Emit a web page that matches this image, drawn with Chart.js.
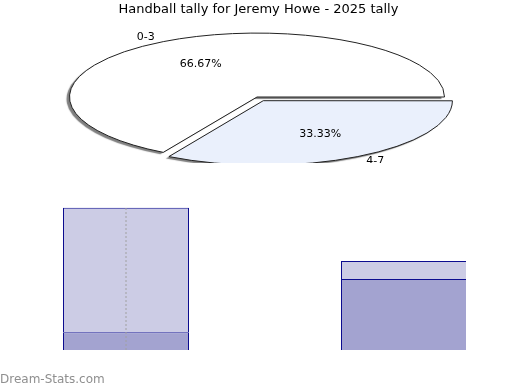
<!DOCTYPE html>
<html lang="en">
<head>
<meta charset="UTF-8" />
<title>Handball tally for Jeremy Howe - 2025 tally</title>
<script src="https://cdn.jsdelivr.net/npm/chart.js@4"></script>
<style>
  html, body { margin: 0; padding: 0; background: #fff; }
  body { width: 520px; height: 390px; position: relative; overflow: hidden; }
  #pieBox { position: absolute; left: 0; top: 0; width: 520px; height: 390px; }
  #barClip { position: absolute; left: 0; top: 180px; width: 466px; height: 170px; overflow: hidden; }
  #barBox { position: absolute; left: -13px; top: 0; width: 556px; height: 180px; }
  #mark { position: absolute; left: 0; top: 372px; font: 12px "DejaVu Sans", sans-serif; color: #8f8f8f; }
</style>
</head>
<body>
  <div id="barClip"><div id="barBox"><canvas id="barChart"></canvas></div></div>
  <div id="pieBox"><canvas id="pieChart"></canvas></div>
  <div id="mark">Dream-Stats.com</div>
<script>
const titleText = 'Handball tally for Jeremy Howe - 2025 tally';

// pie: share of games per handball band
const pieLabels = ['0-3', '4-7'];
const pieValues = [2, 1];

// stacked bars below the pie
const barLabels = ['0-3', '4-7'];
const lowerValues = [1, 4];
const upperValues = [7, 1];
const markerValues = [0, 8];

// where the squashed pie sits on the page
const PIE_CX = 257, PIE_CY = 97, SQUASH = 0.341, CLIP_H = 163;

function toPage(chart, px, py) {
    const a = chart.getDatasetMeta(0).data[0];
    return [PIE_CX + px - a.x, PIE_CY + (py - a.y) * SQUASH];
}

// same shift that ArcElement.draw applies for the offset option
function arcShift(arc) {
    const off = (arc.options.offset || 0) / 4;
    const fix = 1 - Math.sin(Math.min(Math.PI, arc.circumference || 0));
    return off + off * fix;
}

const squashPie = {
    id: 'squashPie',
    beforeDatasetsDraw(chart) {
        const ctx = chart.ctx;
        const arc = chart.getDatasetMeta(0).data[0];
        ctx.save();
        ctx.beginPath();
        ctx.rect(0, 0, chart.width, CLIP_H);
        ctx.clip();
        ctx.translate(PIE_CX, PIE_CY);
        ctx.scale(1, SQUASH);
        ctx.translate(-arc.x, -arc.y);
        ctx.shadowColor = 'rgba(0,0,0,0.5)';
        ctx.shadowOffsetX = -3;
        ctx.shadowOffsetY = 2;
        ctx.shadowBlur = 1;
        // outline in page space (1px everywhere) and without shadow
        const plainStroke = CanvasRenderingContext2D.prototype.stroke;
        ctx.stroke = function () {
            this.save();
            this.setTransform(1, 0, 0, 1, 0, 0);
            this.shadowColor = 'rgba(0,0,0,0)';
            plainStroke.apply(this, arguments);
            this.restore();
        };
    },
    afterDatasetsDraw(chart) {
        const ctx = chart.ctx;
        delete ctx.stroke;
        ctx.restore();

        ctx.save();
        ctx.beginPath();
        ctx.rect(0, 0, chart.width, CLIP_H);
        ctx.clip();
        ctx.font = '11px "DejaVu Sans"';
        ctx.fillStyle = '#000';
        ctx.textBaseline = 'middle';
        const total = pieValues.reduce((a, b) => a + b, 0);
        chart.getDatasetMeta(0).data.forEach((arc, i) => {
            const mid = (arc.startAngle + arc.endAngle) / 2;
            const shift = arcShift(arc);
            const cx = arc.x + Math.cos(mid) * shift;
            const cy = arc.y + Math.sin(mid) * shift;
            const at = f => toPage(chart, cx + Math.cos(mid) * arc.outerRadius * f, cy + Math.sin(mid) * arc.outerRadius * f);
            let p = at(0.6);
            ctx.textAlign = 'center';
            ctx.fillText((pieValues[i] / total * 100).toFixed(2) + '%', p[0], p[1]);
            p = at(1.09);
            ctx.textAlign = Math.cos(mid) < 0 ? 'right' : 'left';
            ctx.fillText(pieLabels[i], p[0], p[1]);
        });
        ctx.restore();
    }
};

new Chart(document.getElementById('pieChart'), {
    type: 'pie',
    data: {
        labels: pieLabels,
        datasets: [{
            data: pieValues,
            backgroundColor: ['#ffffff', '#eaf0fc'],
            borderColor: '#222222',
            borderWidth: 1,
            offset: [0, 50],
            clip: false
        }]
    },
    options: {
        responsive: true,
        maintainAspectRatio: false,
        animation: false,
        rotation: 210,
        radius: 187.5,
        layout: { padding: { right: 3 } },
        events: [],
        plugins: {
            legend: { display: false },
            tooltip: { enabled: false },
            title: {
                display: true,
                text: titleText,
                color: '#000',
                font: { family: 'DejaVu Sans', size: 13, weight: 'normal' },
                padding: { top: 2, bottom: 4 }
            }
        }
    },
    plugins: [squashPie]
});

new Chart(document.getElementById('barChart'), {
    type: 'bar',
    data: {
        labels: barLabels,
        datasets: [
            {
                type: 'line',
                label: 'marker',
                data: markerValues.map(v => ({ x: barLabels[0], y: v })),
                borderColor: '#a0a0a0',
                borderWidth: 1,
                borderDash: [2, 2],
                pointRadius: 0,
                fill: false,
                stack: 'marker',
                order: 0
            },
            {
                label: 'lower',
                data: lowerValues,
                backgroundColor: '#a3a3d0',
                borderColor: '#0c0c8f',
                borderWidth: 1,
                stack: 'bars',
                order: 1
            },
            {
                label: 'upper',
                data: upperValues,
                backgroundColor: '#ccccE5',
                borderColor: '#0c0c8f',
                borderWidth: 1,
                stack: 'bars',
                order: 1
            }
        ]
    },
    options: {
        responsive: true,
        maintainAspectRatio: false,
        animation: false,
        events: [],
        layout: { padding: { top: 10, bottom: 10 } },
        datasets: { bar: { barPercentage: 1, categoryPercentage: 126 / 278 } },
        scales: {
            x: { display: false, stacked: true },
            y: { display: false, stacked: true, min: 0, max: 9 }
        },
        plugins: { legend: { display: false }, tooltip: { enabled: false } }
    }
});
</script>
</body>
</html>
